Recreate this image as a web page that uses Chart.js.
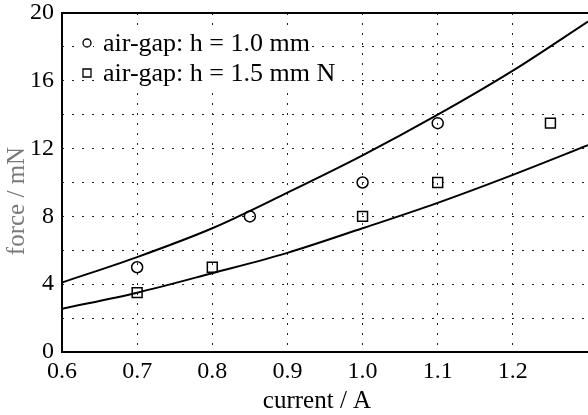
<!DOCTYPE html>
<html>
<head>
<meta charset="utf-8">
<script src="https://cdn.jsdelivr.net/npm/chart.js@4"></script>
<style>
  html, body { margin: 0; padding: 0; background: #fff; }
  #wrap { width: 588px; height: 415px; }
</style>
</head>
<body>
<div id="wrap"><canvas id="chart"></canvas></div>
<script>
// ==================================================
// DATA
// ==================================================
const legendLabels = ["air-gap: h = 1.0 mm", "air-gap: h = 1.5 mm N"];
const xTitle = "current / A";
const yTitle = "force / mN";

// measured points
const currentGap10 = [0.7, 0.85, 1.0, 1.1];
const forceGap10 = [5.0, 8.0, 10.0, 13.5];
const currentGap15 = [0.7, 0.8, 1.0, 1.1, 1.25];
const forceGap15 = [3.5, 5.0, 8.0, 10.0, 13.5];

// fitted curves
const fitCurrent = [0.6, 0.7, 0.8, 0.9, 1.0, 1.1, 1.2, 1.3];
const fitGap10 = [4.1, 5.6, 7.3, 9.4, 11.6, 14.0, 16.6, 19.5];
const fitGap15 = [2.55, 3.5, 4.65, 5.85, 7.3, 8.8, 10.45, 12.2];

const xTicks = [0.6, 0.7, 0.8, 0.9, 1.0, 1.1, 1.2, 1.3];
const xTickLabels = ["0.6", "0.7", "0.8", "0.9", "1.0", "1.1", "1.2", ""];
const yTicks = [0, 2, 4, 6, 8, 10, 12, 14, 16, 18, 20];
const yTickLabels = ["0", "", "4", "", "8", "", "12", "", "16", "", "20"];

const toPoints = (xs, ys) => xs.map((x, i) => ({ x: x, y: ys[i] }));

// ==================================================
// PLUGINS
// ==================================================
const FONT = "'Liberation Serif', 'Times New Roman', serif";

// axis lines + top border (no right border, the picture is cut there)
const framePlugin = {
  id: "frame",
  afterDatasetsDraw(chart) {
    const { ctx, chartArea } = chart;
    ctx.save();
    ctx.strokeStyle = "#000";
    ctx.lineWidth = 2;
    ctx.beginPath();
    ctx.moveTo(chartArea.right + 2, chartArea.top);
    ctx.lineTo(chartArea.left, chartArea.top);
    ctx.lineTo(chartArea.left, chartArea.bottom);
    ctx.lineTo(chartArea.right + 2, chartArea.bottom);
    ctx.stroke();
    ctx.restore();
  },
};

// axis titles
const titlePlugin = {
  id: "axisTitles",
  afterDraw(chart) {
    const { ctx, chartArea } = chart;
    ctx.save();
    ctx.font = "25px " + FONT;
    ctx.textAlign = "center";
    ctx.textBaseline = "middle";
    ctx.fillStyle = "#000";
    ctx.fillText(xTitle, chartArea.left + 255, chart.height - 14);
    ctx.translate(17, chartArea.top + 188);
    ctx.rotate(-Math.PI / 2);
    ctx.fillStyle = "#7a7a7a";
    ctx.fillText(yTitle, 0, 0);
    ctx.restore();
  },
};

// legend inside the plot, top left
const legendPlugin = {
  id: "innerLegend",
  afterDatasetsDraw(chart) {
    const { ctx, chartArea } = chart;
    const x0 = chartArea.left + 25;
    const rows = [chartArea.top + 30, chartArea.top + 60];
    ctx.save();
    ctx.font = "26px " + FONT;
    ctx.textBaseline = "middle";
    rows.forEach((y, i) => {
      const w = ctx.measureText(legendLabels[i]).width;
      ctx.fillStyle = "#fff";
      ctx.fillRect(x0 - 6, y - 7, 12, 14);
      ctx.fillRect(x0 + 14, y - 14, w + 4, 28);
      ctx.strokeStyle = "#000";
      ctx.lineWidth = 1.3;
      ctx.beginPath();
      if (i === 0) {
        ctx.arc(x0, y, 4, 0, Math.PI * 2);
      } else {
        ctx.rect(x0 - 4, y - 4, 8, 8);
      }
      ctx.stroke();
      ctx.fillStyle = "#000";
      ctx.fillText(legendLabels[i], x0 + 16, y + 1);
    });
    ctx.restore();
  },
};

// ==================================================
// CHART
// ==================================================
const ctx = document.getElementById("chart").getContext("2d");

const gridColor = (edgeLow, edgeHigh) => (c) =>
  c.tick && (c.tick.value <= edgeLow || c.tick.value >= edgeHigh)
    ? "rgba(0,0,0,0)"
    : "#222";

new Chart(ctx, {
  type: "scatter",
  data: {
    datasets: [
      {
        label: "fit h = 1.0 mm",
        data: toPoints(fitCurrent, fitGap10),
        showLine: true,
        borderColor: "#000",
        borderWidth: 2,
        pointRadius: 0,
        cubicInterpolationMode: "monotone",
      },
      {
        label: "fit h = 1.5 mm",
        data: toPoints(fitCurrent, fitGap15),
        showLine: true,
        borderColor: "#000",
        borderWidth: 2,
        pointRadius: 0,
        cubicInterpolationMode: "monotone",
      },
      {
        label: legendLabels[0],
        data: toPoints(currentGap10, forceGap10),
        pointStyle: "circle",
        pointRadius: 5.5,
        pointBorderWidth: 1.5,
        pointBorderColor: "#000",
        pointBackgroundColor: "rgba(255,255,255,0)",
      },
      {
        label: legendLabels[1],
        data: toPoints(currentGap15, forceGap15),
        pointStyle: "rect",
        pointRadius: 7,
        pointBorderWidth: 1.5,
        pointBorderColor: "#000",
        pointBackgroundColor: "rgba(255,255,255,0)",
      },
    ],
  },
  options: {
    responsive: true,
    maintainAspectRatio: false,
    animation: false,
    layout: {
      autoPadding: false,
      padding: { top: 13, right: 0, left: 0, bottom: 0 },
    },
    plugins: {
      legend: { display: false },
      tooltip: { enabled: false },
    },
    scales: {
      x: {
        type: "linear",
        min: 0.6,
        max: 1.3,
        afterBuildTicks: (scale) => {
          scale.ticks = xTicks.map((v) => ({ value: v }));
        },
        afterFit: (scale) => {
          scale.height = 63;
          scale.paddingLeft = 0;
          scale.paddingRight = 0;
        },
        grid: { drawTicks: false, lineWidth: 1, color: gridColor(0.6, 1.3) },
        border: { display: false, dash: [2, 8] },
        ticks: {
          padding: 8,
          color: "#000",
          font: { family: FONT, size: 24, lineHeight: 1 },
          maxRotation: 0,
          autoSkip: false,
          callback: (value, index) => xTickLabels[index],
        },
      },
      y: {
        type: "linear",
        min: 0,
        max: 20,
        afterBuildTicks: (scale) => {
          scale.ticks = yTicks.map((v) => ({ value: v }));
        },
        afterFit: (scale) => {
          scale.width = 62;
          scale.paddingTop = 0;
          scale.paddingBottom = 0;
        },
        grid: { drawTicks: false, lineWidth: 1, color: gridColor(0, 20) },
        border: { display: false, dash: [2, 8] },
        ticks: {
          padding: 8,
          color: "#000",
          font: { family: FONT, size: 24, lineHeight: 1 },
          autoSkip: false,
          callback: (value, index) => yTickLabels[index],
        },
      },
    },
  },
  plugins: [framePlugin, legendPlugin, titlePlugin],
});
</script>
</body>
</html>
